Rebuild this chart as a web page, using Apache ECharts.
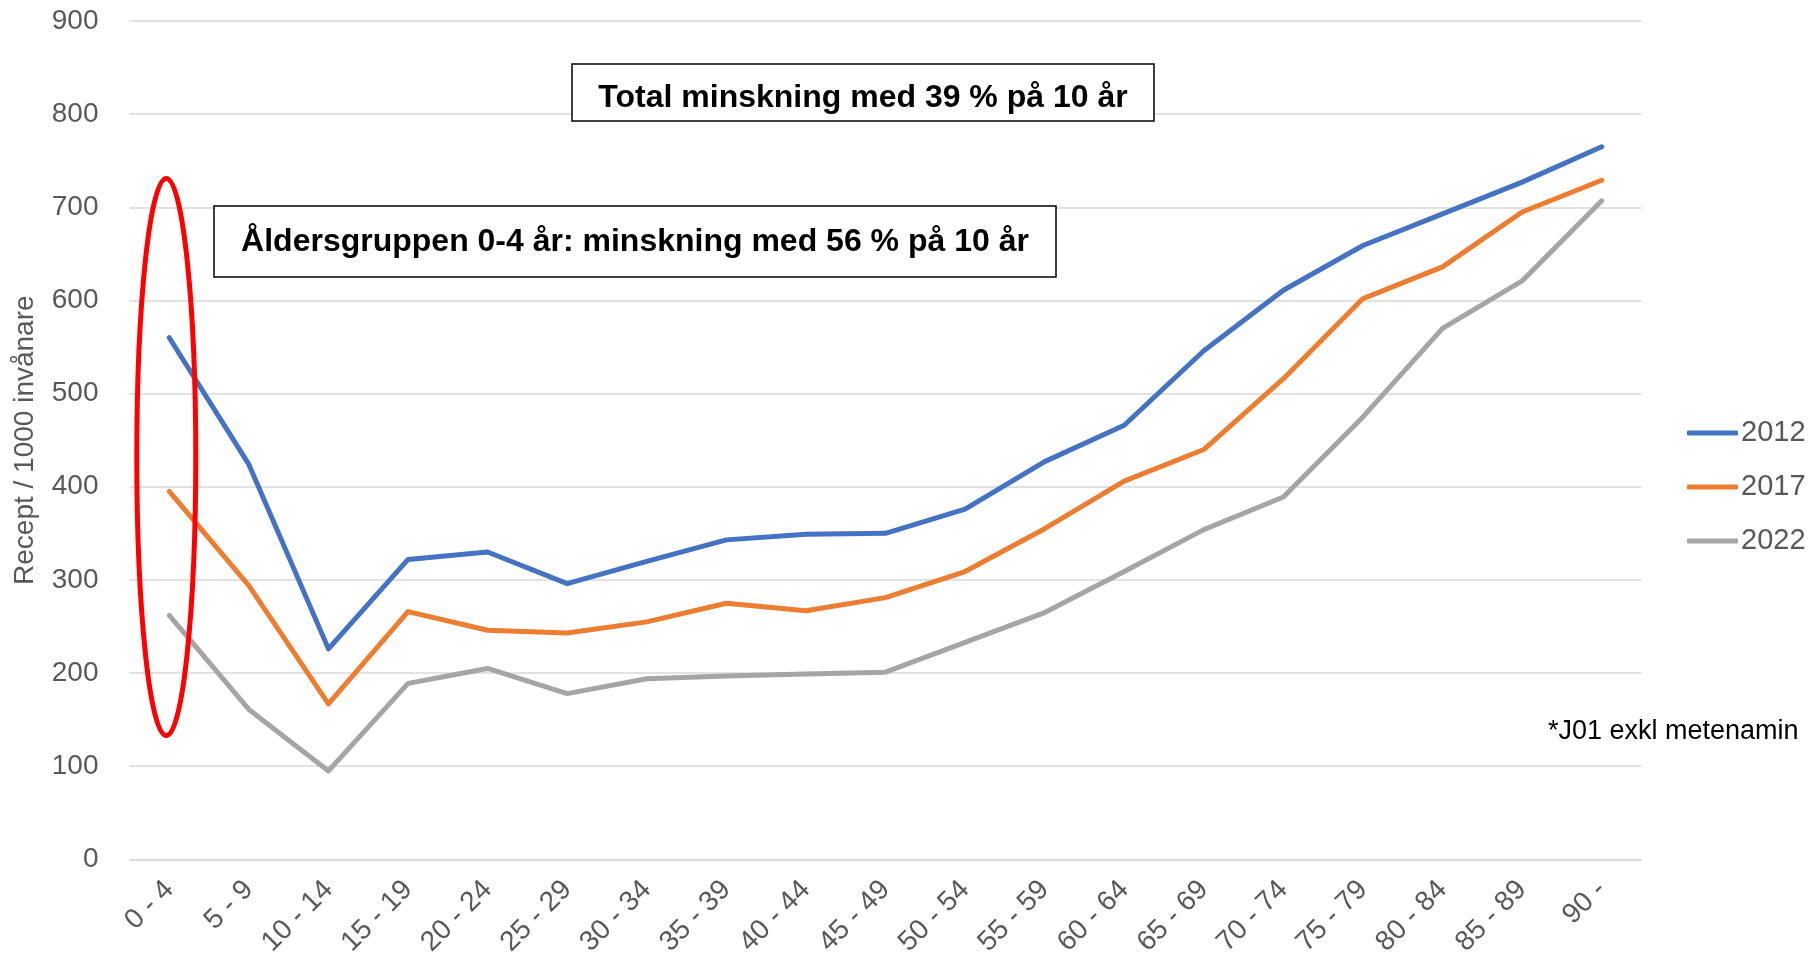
<!DOCTYPE html>
<html>
<head>
<meta charset="utf-8">
<script src="https://cdn.jsdelivr.net/npm/echarts@6/dist/echarts.min.js"></script>
<style>
html,body{margin:0;padding:0;background:#fff;}
#main{width:1816px;height:966px;}
</style>
</head>
<body>
<div id="main"></div>
<script>
var categories = ['0 - 4','5 - 9','10 - 14','15 - 19','20 - 24','25 - 29','30 - 34','35 - 39','40 - 44','45 - 49','50 - 54','55 - 59','60 - 64','65 - 69','70 - 74','75 - 79','80 - 84','85 - 89','90 -'];
var s2012 = [560, 424, 226, 322, 330, 296, 320, 343, 349, 350, 376, 427, 466, 546, 611, 659, 693, 727, 765];
var s2017 = [395, 294, 167, 266, 246, 243, 255, 275, 267, 281, 309, 355, 406, 440, 516, 602, 636, 695, 729];
var s2022 = [262, 161, 95, 189, 205, 178, 194, 197, 199, 201, 233, 265, 309, 354, 389, 475, 570, 621, 707];
var seriesNames = ['2012', '2017', '2022'];
var yTicks = [0, 100, 200, 300, 400, 500, 600, 700, 800, 900];
var noteTotal = 'Total minskning med 39 % på 10 år';
var noteAge = 'Åldersgruppen 0-4 år: minskning med 56 % på 10 år';
var footnote = '*J01 exkl metenamin';
var yTitle = 'Recept / 1000 invånare';

var FONT = '"Liberation Sans", Arial, sans-serif';
var colors = ['#4472C4', '#ED7D31', '#A5A5A5'];
var chart = echarts.init(document.getElementById('main'));

function mkSeries(name, data, color) {
  return {
    name: name, type: 'line', data: data, symbol: 'none', smooth: false,
    lineStyle: { color: color, width: 5, cap: 'round', join: 'round' },
    itemStyle: { color: color }
  };
}

var option = {
  animation: false,
  backgroundColor: '#ffffff',
  grid: { left: 129.5, right: 174.5, top: 21, bottom: 106.6, containLabel: false, outerBoundsMode: 'none' },
  legend: {
    orient: 'vertical', left: 1682, top: 413,
    icon: 'roundRect',
    itemWidth: 51, itemHeight: 5, itemGap: 24,
    textStyle: { fontFamily: FONT, fontSize: 29, color: '#595959', lineHeight: 30, padding: [0, 0, 0, -2] },
    data: seriesNames
  },
  xAxis: {
    type: 'category', data: categories, boundaryGap: true,
    axisLine: { show: true, lineStyle: { color: '#D9D9D9', width: 1.5 } },
    axisTick: { show: false },
    axisLabel: { rotate: 45, margin: 26, interval: 0, fontFamily: FONT, fontSize: 28, color: '#595959' }
  },
  yAxis: {
    type: 'value', min: yTicks[0], max: yTicks[yTicks.length - 1], interval: 100,
    name: yTitle, nameLocation: 'middle', nameGap: 90,
    nameTextStyle: { fontFamily: FONT, fontSize: 28, color: '#595959' },
    axisLine: { show: false }, axisTick: { show: false },
    splitLine: { lineStyle: { color: '#D9D9D9', width: 1.5 } },
    axisLabel: { margin: 31, fontFamily: FONT, fontSize: 28, color: '#595959' }
  },
  series: [
    mkSeries(seriesNames[0], s2012, colors[0]),
    mkSeries(seriesNames[1], s2017, colors[1]),
    mkSeries(seriesNames[2], s2022, colors[2])
  ]
};
chart.setOption(option);

var c = chart.convertToPixel({ xAxisIndex: 0, yAxisIndex: 0 }, [0, 432]);
var t = chart.convertToPixel({ xAxisIndex: 0, yAxisIndex: 0 }, [0, 731]);
var ry = c[1] - t[1];

chart.setOption({
  graphic: [
    {
      type: 'rect', z: 100,
      shape: { x: 572, y: 64, width: 582, height: 57 },
      style: { fill: '#ffffff', stroke: '#000000', lineWidth: 1.5 }
    },
    {
      type: 'text', z: 101, x: 863, y: 98,
      style: { text: noteTotal, fontFamily: FONT, fontWeight: 'bold', fontSize: 32, fill: '#000000', align: 'center', verticalAlign: 'middle' }
    },
    {
      type: 'rect', z: 100,
      shape: { x: 214, y: 206, width: 842, height: 71 },
      style: { fill: '#ffffff', stroke: '#000000', lineWidth: 1.5 }
    },
    {
      type: 'text', z: 101, x: 635, y: 242,
      style: { text: noteAge, fontFamily: FONT, fontWeight: 'bold', fontSize: 32, fill: '#000000', align: 'center', verticalAlign: 'middle' }
    },
    {
      type: 'ellipse', z: 102,
      shape: { cx: c[0] - 3, cy: c[1], rx: 29.5, ry: ry },
      style: { fill: 'none', stroke: '#FF0000', lineWidth: 5 }
    },
    {
      type: 'text', z: 101, x: 1548, y: 732,
      style: { text: footnote, fontFamily: FONT, fontSize: 27, fill: '#000000', align: 'left', verticalAlign: 'middle' }
    }
  ]
});
</script>
</body>
</html>
